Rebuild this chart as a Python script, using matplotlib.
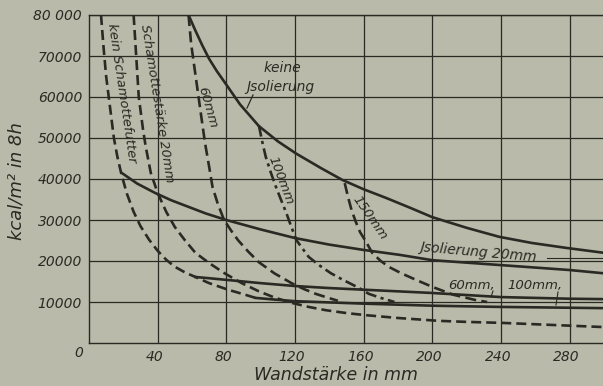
import matplotlib
matplotlib.use("Agg")
import matplotlib.pyplot as plt
import matplotlib.transforms as mtrans

# ---- data ----
x_keine = [58, 62, 66, 70, 74.5, 78.7, 88, 99, 110, 120.7, 135, 147.5, 160, 173, 187, 200, 220, 239, 258, 278, 300]
y_keine = [80000, 76200, 72600, 69300, 66300, 63800, 58200, 52900, 49200, 46200, 42700, 39800, 37500, 35400,
           33000, 30700, 28100, 25900, 24400, 23200, 22000]

x_iso20 = [19, 28, 38.5, 48, 58, 68, 80, 100, 120, 140, 160, 181, 200, 220, 240, 260, 280, 300]
y_iso20 = [41500, 38900, 36600, 34800, 33200, 31600, 30000, 27700, 25600, 24000, 22700, 21500, 20200,
           19600, 19000, 18400, 17800, 17000]

x_iso60 = [62, 70, 80, 90, 100, 120, 140, 160, 180, 200, 220, 240, 260, 280, 300]
y_iso60 = [16100, 15800, 15400, 15000, 14600, 13900, 13400, 13000, 12600, 12200, 11700, 11200, 11000,
           10800, 10700]

x_iso100 = [97, 108, 120, 140, 160, 180, 200, 220, 240, 270, 300]
y_iso100 = [11000, 10600, 10200, 9900, 9600, 9350, 9100, 8950, 8800, 8650, 8500]

x_kein = [7, 8.5, 10, 11.5, 13, 14.5, 16.5, 18.7, 22, 26, 30, 35, 40, 45, 50, 56, 62, 70, 81, 90, 97]
y_kein = [80000, 72000, 65000, 60000, 55000, 50000, 45500, 41500, 36500, 32000, 28500, 25200, 22500,
          20300, 18600, 17200, 16100, 14600, 13000, 11900, 11000]

x_sch20 = [26, 27.5, 29, 31.5, 33, 36, 40, 45, 50, 56, 62, 70, 79, 89, 99, 108, 118, 128, 138, 150,
           161, 180, 204, 220, 241, 270, 299]
y_sch20 = [80000, 70000, 60000, 52000, 48000, 41500, 36600, 32000, 28300, 25000, 22000, 19500, 17000,
           14600, 12600, 11100, 9800, 8800, 8000, 7300, 6800, 6100, 5400, 5150, 4900, 4400, 3900]

x_s60 = [58, 59.5, 61.5, 63.5, 65.5, 67.6, 70, 72, 75, 78.7, 83, 87, 93, 99, 108, 118, 125, 132, 138, 145]
y_s60 = [80000, 73000, 67000, 61000, 55000, 48800, 43000, 38000, 34000, 30000, 27300, 25000, 22200,
         19700, 17000, 14600, 13200, 12000, 11200, 10300]

x_s100 = [99, 101, 103, 106, 109, 112, 115, 118, 121, 125, 128, 134, 141, 148, 157, 163, 170, 178]
y_s100 = [53000, 49000, 45400, 41500, 38000, 34800, 31700, 28200, 25000, 22700, 21000, 19000, 17000,
          15400, 13500, 12000, 11000, 10000]

x_s150 = [149, 151, 153, 155.5, 158, 161, 165, 170, 175, 182, 190, 200, 212, 225, 232]
y_s150 = [39000, 35500, 32400, 29500, 27000, 25000, 22000, 20000, 18500, 17000, 15500, 13700, 11800,
          10500, 10000]

x_ticks = [40, 80, 120, 160, 200, 240, 280]
y_ticks = [10000, 20000, 30000, 40000, 50000, 60000, 70000, 80000]
y_ticklabels = ["10000", "20000", "30000", "40000", "50000", "60000", "70000", "80 000"]

# ---- style ----
BG = "#b9baa9"
INK = "#2a2a24"
W, H = 603, 386

plt.rcParams['font.family'] = ['DejaVu Sans']
fig = plt.figure(figsize=(W / 100, H / 100), dpi=100, facecolor=BG)
ax = fig.add_axes([89 / W, (H - 343) / H, (W - 89) / W, (343 - 15) / H])
ax.set_facecolor(BG)
ax.set_xlim(0, 299.5)
ax.set_ylim(0, 80000)

ax.spines["right"].set_visible(False)
for s in ["left", "bottom", "top"]:
    ax.spines[s].set_color(INK)
    ax.spines[s].set_linewidth(1.0)

ax.set_xticks(x_ticks)
ax.set_xticklabels([str(v) for v in x_ticks])
ax.set_yticks(y_ticks)
ax.set_yticklabels(y_ticklabels)
ax.tick_params(length=0, pad=5, labelsize=10, labelcolor=INK)
shift = mtrans.ScaledTranslation(-3 / 100, 0, fig.dpi_scale_trans)
for lab in ax.get_xticklabels():
    lab.set_style("italic")
    lab.set_transform(lab.get_transform() + shift)
for lab in ax.get_yticklabels():
    lab.set_style("italic")
ax.grid(True, color=INK, linewidth=0.9)
ax.set_axisbelow(True)

lw = 1.9
kw = dict(color=INK, lw=lw, solid_joinstyle="round", dash_joinstyle="round")
ax.plot(x_keine, y_keine, **kw)
ax.plot(x_iso20, y_iso20, **kw)
ax.plot(x_iso60, y_iso60, **kw)
ax.plot(x_iso100, y_iso100, **kw)
ax.plot(x_kein, y_kein, dashes=(3.8, 1.9), **kw)
ax.plot(x_sch20, y_sch20, dashes=(3.8, 1.9), **kw)
ax.plot(x_s60, y_s60, dashes=(4.2, 2.0), **kw)
ax.plot(x_s100, y_s100, dashes=(4.2, 1.7, 1.2, 1.7), **kw)
ax.plot(x_s150, y_s150, dashes=(4.2, 2.0), **kw)


def ftext(px, py, s, rot=0, size=10, **kw):
    fig.text(px / W, 1 - py / H, s, rotation=rot, fontsize=size, color=INK,
             style="italic", ha="center", va="center", rotation_mode="anchor", **kw)


def fline(xs, ys, lw=0.9):
    fig.add_artist(plt.Line2D([v / W for v in xs], [1 - v / H for v in ys], color=INK, lw=lw))


ftext(79, 353, "0")
ftext(336, 375, "Wandstärke in mm", size=12.5)
ftext(17, 181, "kcal/m² in 8h", rot=90, size=13)
ftext(282, 68, "keine", size=10)
ftext(280, 87, "Jsolierung", size=10)
fline([253, 247], [95, 108])
ftext(122, 93, "kein Schamottefutter", rot=-81.5, size=9.5)
ftext(157, 103, "Schamottestärke 20mm", rot=-81, size=9.5)
ftext(207, 107, "60mm", rot=-74, size=9.5)
ftext(281, 180, "100mm", rot=-69, size=9.5)
ftext(370, 218, "150mm", rot=-55, size=9.5)
ftext(478, 252, "Jsolierung 20mm", rot=-5, size=10)
fline([547, 603], [258, 258], lw=0.8)
ftext(472, 285, "60mm,", size=9.5)
ftext(535, 286, "100mm,", size=9.5)
fline([493, 491], [291, 297], lw=0.8)
fline([558, 556], [292, 305], lw=0.8)

fig.savefig("out.png", dpi=100, facecolor=BG)
